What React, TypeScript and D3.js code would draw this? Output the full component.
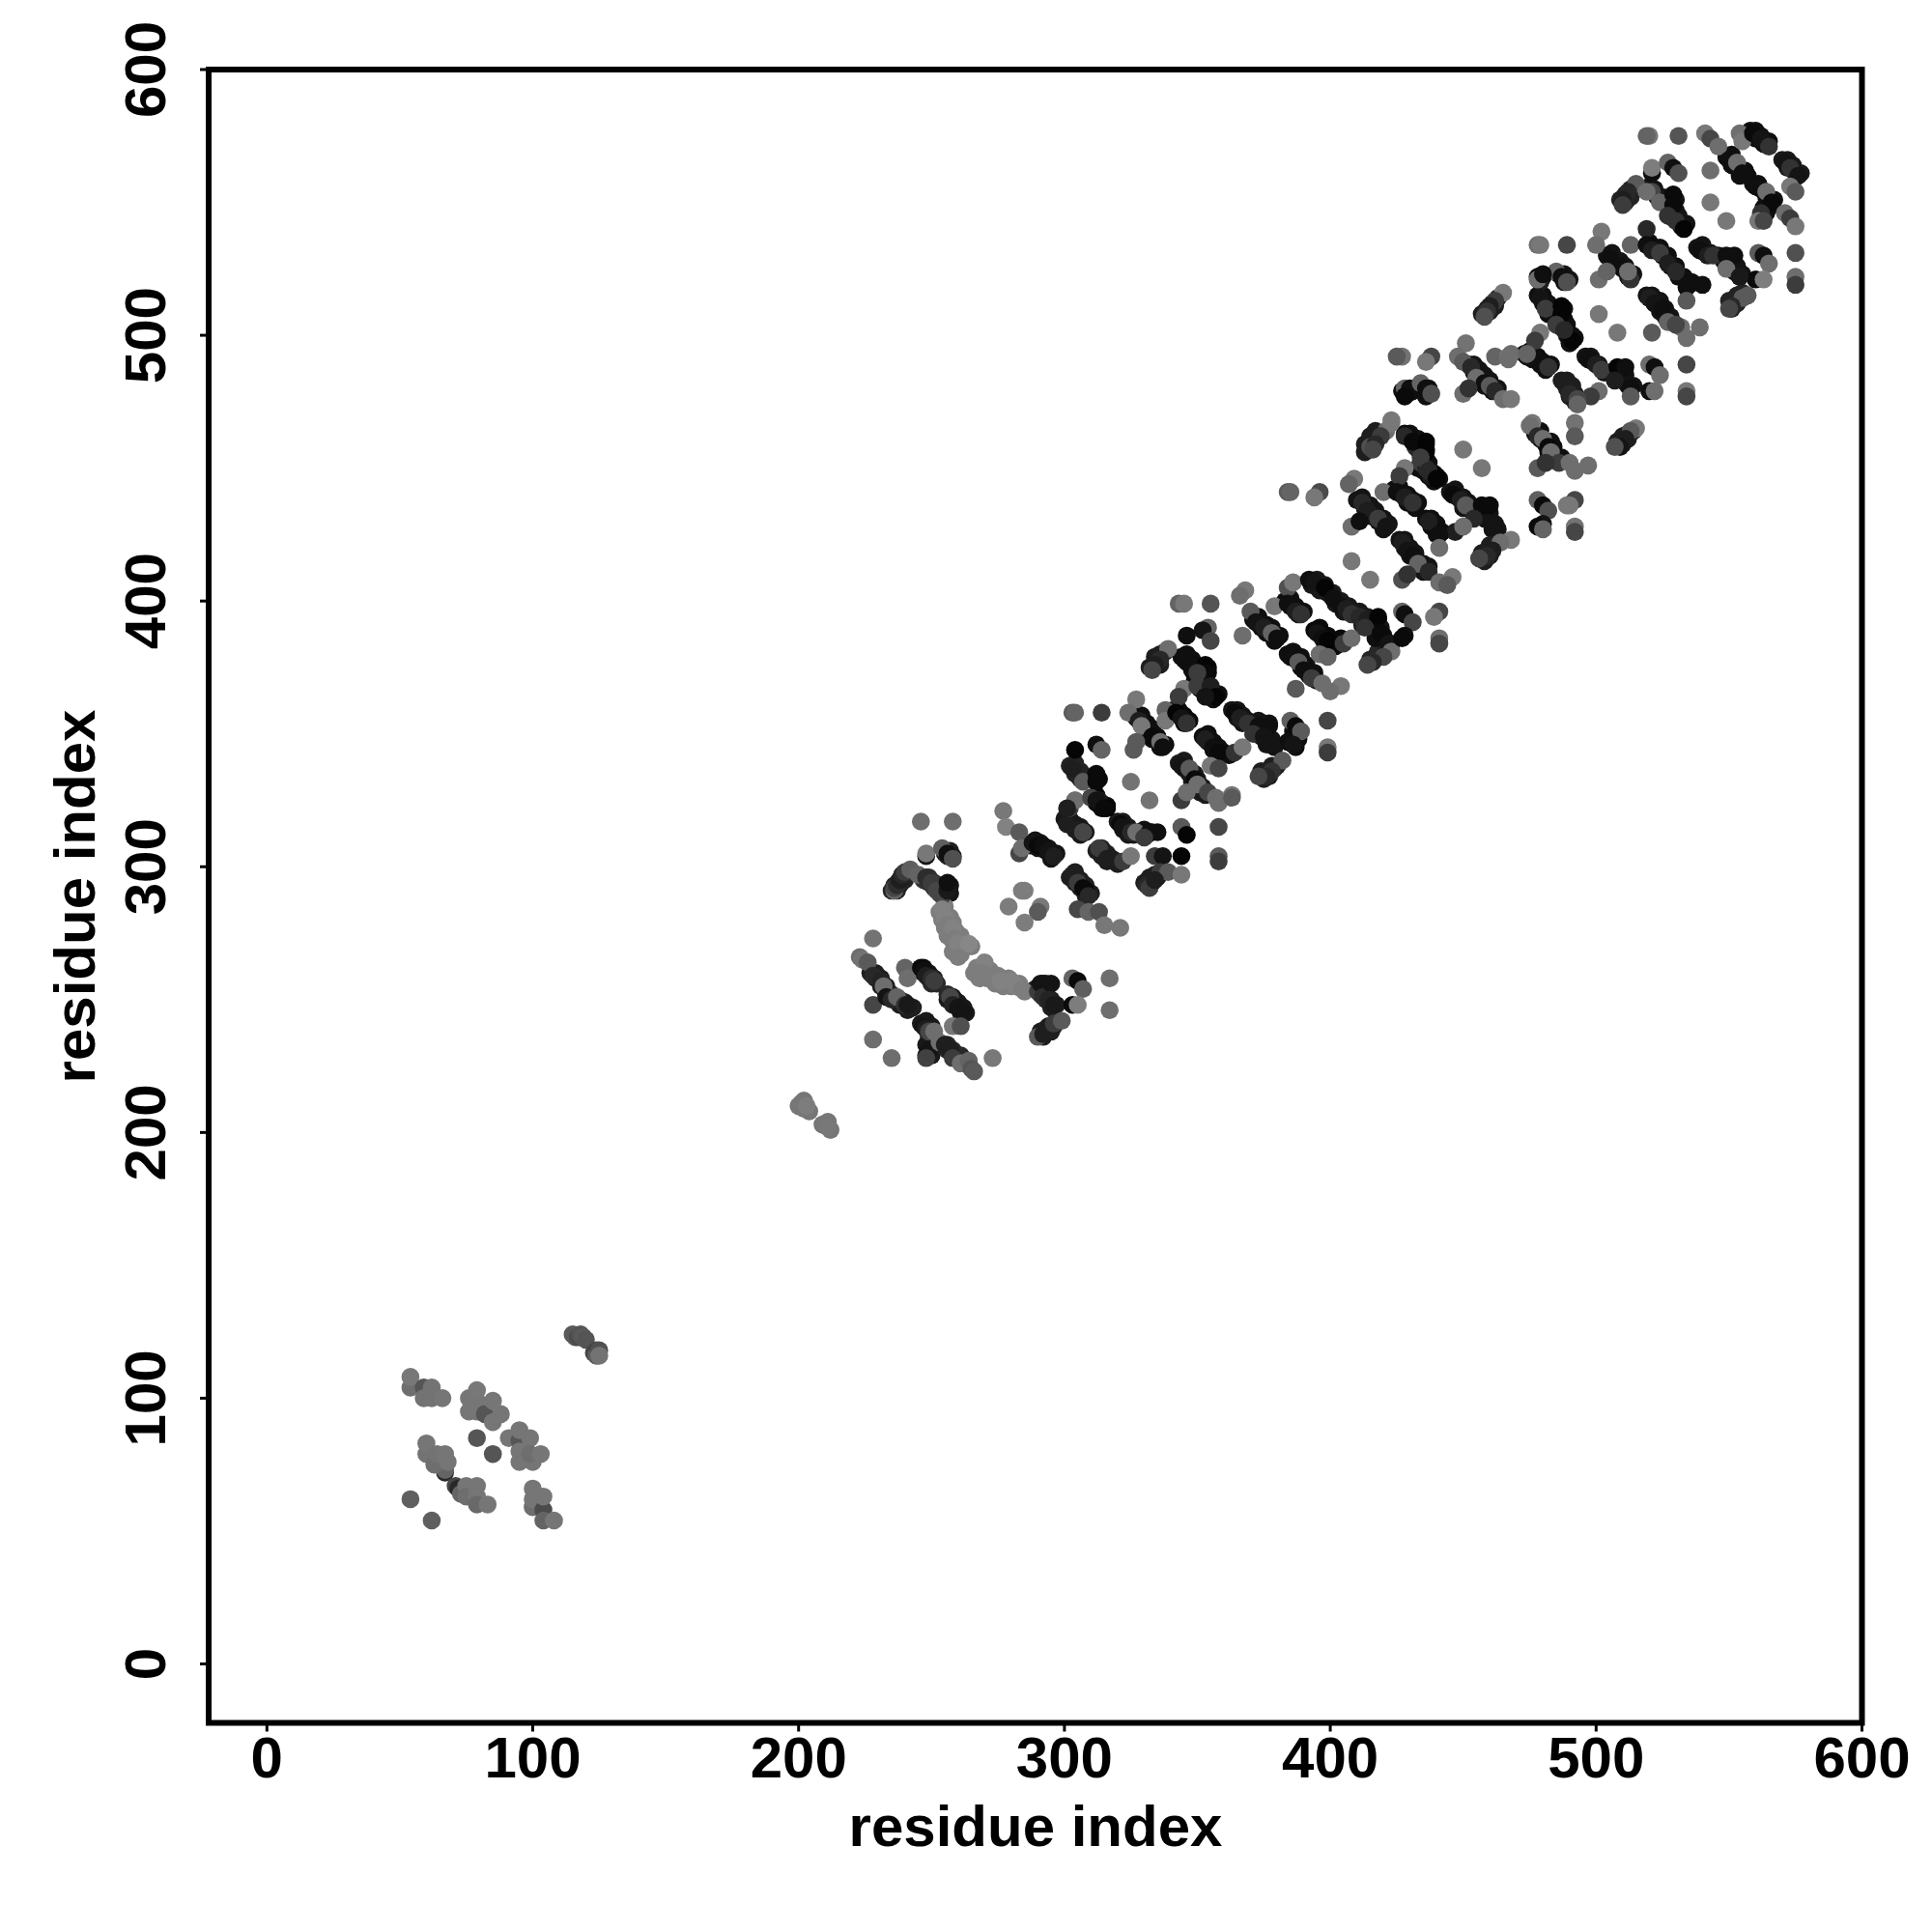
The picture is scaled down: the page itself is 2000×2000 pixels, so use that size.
import React from "react";
import * as d3 from "d3";

type P = [number, number, number];

const xTicks = [0, 100, 200, 300, 400, 500, 600];
const yTicks = [0, 100, 200, 300, 400, 500, 600];
const xTitle = "residue index";
const yTitle = "residue index";

// [residue i, residue j, grey level]
const lowCluster: P[] = [
  [54,104,110],[54,108,120],[59,104,85],[59,100,115],[62,104,115],[62,100,115],[66,100,118],
  [76,100,118],[76,95,118],[79,95,118],[79,99,118],[79,103,120],[82,94,85],[85,99,118],[88,94,118],[85,91,118],
  [79,85,85],[85,79,85],
  [60,79,115],[60,83,118],[67,72,40],[67,73,100],[63,75,110],[64,79,115],[68,76,118],[67,79,118],
  [91,85,118],[95,84,85],[95,88,118],[99,85,118],[95,80,118],[95,76,118],[100,76,118],[99,79,110],[103,79,118],
  [54,62,95],[62,54,95],
  [71,67,70],[72,66,40],[73,64,100],[75,67,118],[75,63,110],[79,67,118],[79,63,118],[79,60,105],[83,60,118],
  [100,59,110],[100,62,118],[100,66,118],[104,58,75],[104,63,118],[104,54,100],[108,54,118],
];
const bridgePoints: P[] = [
  [115,124,90],[116,123,90],[117,123,75],[118,124,85],[119,123,90],[120,122,85],[123,117,70],[124,118,70],[124,116,90],[125,118,80],[125,116,115],
  [200,210,118],[201,211,120],[202,212,118],[202,209,118],[204,208,118],[203,210,125],[209,203,118],[210,203,118],[212,201,118],[211,204,118],[211,202,120],
];
const lightArc: P[] = [
  [253,283,125],[255,285,125],[254,280,125],[257,281,125],[255,277,125],[258,279,125],[256,274,125],[259,276,125],[258,272,125],[261,274,125],[262,270,125],[265,270,125],[258,268,125],[261,267,125],
  [267,262,125],[270,262,125],[268,258,125],[271,258,125],[272,261,125],[275,259,125],[274,256,125],[277,255,125],[279,258,125],[280,255,125],[283,256,125],[285,253,125],
];
// darker strands lying beneath the individually legible points
const strandsLowerHalf: P[] = [
  [235,291,35],[237,291,35],[236,293,35],[238,293,35],[238,295,35],[240,295,35],[239,297,35],[241,297,35],
  [247,295,50],[249,296,50],[249,294,50],[251,294,50],[251,292,50],[253,292,50],[253,290,50],[255,290,50],
  [255,293,20],[257,293,20],[255,290,20],[257,290,20],[255,305,30],[257,306,30],[256,304,30],[258,304,30],
  [227,260,30],[229,260,30],[229,258,30],[231,258,30],[231,255,30],[233,255,30],[233,252,30],[235,252,30],[236,250,30],[238,250,30],[238,248,30],[240,249,30],[241,246,30],[243,247,30],
  [245,261,15],[247,262,15],[247,260,20],[249,260,20],[249,258,30],[251,258,30],[250,256,40],[252,256,40],
  [256,250,25],[258,251,25],[258,249,25],[260,249,25],[260,247,25],[262,247,25],[261,245,25],[263,245,25],
  [246,241,25],[248,242,25],[248,239,25],[250,240,25],[249,236,25],[251,236,25],[248,233,25],[250,233,25],[250,229,25],[248,229,25],
  [254,233,40],[256,233,40],[256,231,40],[258,231,40],[259,229,40],[261,229,40],
  [289,254,30],[291,254,30],[291,252,30],[293,252,30],[293,250,30],[295,250,30],[295,247,30],[297,248,30],[292,256,25],[293,256,25],
  [291,238,30],[293,239,30],[294,240,30],[296,240,30],[297,242,30],[292,236,30],[295,238,30],
  [287,308,20],[289,310,20],[290,307,20],[291,309,20],[293,306,20],[294,307,20],[295,303,20],[297,305,20],
  [302,296,30],[304,298,30],[304,294,30],[306,295,30],[306,292,30],[308,293,30],[308,289,30],[310,290,30],
  [300,318,25],[302,318,25],[302,316,25],[304,316,25],[304,314,25],[306,315,25],[306,312,25],[308,313,25],
  [310,326,10],[312,327,10],[312,324,10],[314,324,10],[314,322,10],[316,323,10],[320,317,25],[322,317,25],[322,314,25],[324,315,25],[324,312,25],[326,312,25],
  [312,306,30],[314,307,30],[314,304,30],[316,305,30],[316,302,30],[318,303,30],[320,301,30],
  [302,338,35],[304,339,35],[304,335,35],[306,336,35],[306,333,35],[308,334,35],[311,333,10],[313,333,10],
  [328,313,15],[330,314,15],[331,312,15],[333,313,15],[330,294,30],[332,296,30],[333,294,30],[334,297,30],[335,296,30],
  [332,375,30],[334,377,30],[334,379,30],[336,376,30],[336,380,30],[338,381,30],
  [344,379,15],[346,380,15],[346,377,15],[348,378,15],[348,374,15],[350,375,15],[351,372,15],[352,375,10],[354,375,10],[352,372,10],[354,373,10],
  [349,370,15],[351,370,15],[351,367,15],[353,368,15],[353,365,15],[355,366,15],[356,363,15],[358,365,15],
  [327,356,15],[329,357,15],[329,354,15],[331,354,15],[331,351,15],[333,352,15],[333,348,15],[335,349,15],[336,345,15],[338,346,15],
  [341,359,10],[343,359,10],[343,357,10],[345,357,10],[345,354,10],[347,355,10],
  [363,359,20],[365,359,20],[365,356,20],[367,357,20],[367,354,20],[369,355,20],[371,353,20],[373,355,20],[375,354,20],[377,354,20],
  [372,351,20],[374,352,20],[374,349,20],[376,349,20],[376,346,20],[378,348,20],[379,345,20],
  [386,351,15],[384,347,15],[388,348,15],[387,345,15],
  [352,349,15],[354,350,15],[354,347,15],[356,347,15],[356,344,15],[358,345,15],[360,343,15],[362,342,15],
  [374,336,30],[376,336,30],[378,338,30],[375,333,30],[377,334,30],[379,337,30],[380,338,30],
  [343,339,25],[345,340,25],[345,337,25],[347,335,25],[349,335,25],[348,332,25],[350,333,25],[352,330,25],[351,328,25],[353,327,25],
];
const strandsUpperHalf: P[] = [
  [371,393,15],[373,394,15],[374,390,15],[376,391,15],[376,388,15],[378,390,15],[379,385,15],[381,387,15],
  [383,400,15],[385,401,15],[385,398,15],[387,398,15],[388,395,15],[390,396,15],
  [393,406,25],[395,408,25],[396,404,25],[398,406,25],[399,403,25],[401,403,25],[402,399,25],[404,400,25],[405,396,25],[407,398,25],[409,395,25],[411,396,25],[412,392,25],[414,394,25],[416,392,25],[418,393,25],
  [394,389,10],[396,390,10],[397,387,10],[399,387,10],[398,384,10],[400,385,10],[402,383,10],[404,386,10],
  [384,380,15],[386,381,15],[387,378,15],[389,379,15],[389,375,15],[391,376,15],[392,372,15],[394,373,15],[395,370,15],
  [410,438,20],[412,439,20],[413,435,20],[415,436,20],[415,432,20],[417,434,20],[418,430,20],[420,431,20],[420,427,20],[422,429,20],
  [413,459,30],[415,460,30],[415,462,30],[417,464,30],[413,456,30],[416,458,30],
  [428,463,15],[430,463,15],[431,460,15],[433,461,15],[433,457,15],[435,456,15],[435,452,15],[437,452,15],[433,450,15],[435,449,15],[437,447,15],[439,448,15],[439,445,15],[441,446,15],
  [424,442,15],[426,443,15],[427,440,15],[429,440,15],[429,437,15],[431,438,15],[432,435,15],[433,437,15],
  [445,441,20],[447,442,20],[448,439,20],[450,439,20],[450,435,20],[452,437,20],[454,435,20],[456,434,20],[458,434,20],[460,433,20],[458,431,20],[460,430,20],[463,427,20],[461,427,20],
  [436,431,15],[438,431,15],[438,428,15],[440,429,15],[440,425,15],[442,426,15],
  [457,418,30],[459,419,30],[460,421,30],[458,415,30],[460,417,30],
  [426,423,20],[428,423,20],[428,420,20],[430,420,20],[430,417,20],[432,418,20],[433,413,20],[435,414,20],[435,411,20],[437,413,20],
  [415,378,40],[417,379,40],[418,381,40],[420,381,40],[421,383,30],[423,384,30],
  [412,391,30],[415,392,30],[417,390,20],[419,390,20],[417,386,15],[420,387,15],
  [452,489,20],[454,489,20],[454,486,20],[456,487,20],[456,484,20],[458,485,20],[458,481,20],[460,483,20],[461,479,20],[463,480,20],
  [457,508,30],[459,510,30],[460,509,30],[461,512,30],[462,511,30],[463,514,30],
  [477,463,15],[479,464,15],[479,461,15],[481,459,15],[483,460,15],[482,456,15],[484,458,15],[485,453,15],[487,454,15],
  [427,479,15],[429,478,15],[431,479,15],[435,479,15],[437,480,15],[436,477,15],
  [508,460,30],[510,462,30],[510,459,30],[512,461,30],[512,463,30],[514,464,30],
  [509,551,35],[511,553,35],[511,550,35],[513,555,35],[513,552,35],[515,555,35],
  [520,556,20],[522,555,20],[523,552,20],[525,552,20],[528,551,20],[530,551,20],[528,547,20],[530,547,20],[529,544,20],[531,545,20],[532,541,20],[534,542,20],
  [549,567,15],[551,568,15],[551,564,15],[553,563,15],[554,560,15],[556,562,15],[557,560,15],
  [558,577,15],[560,577,15],[560,574,15],[562,575,15],[563,572,15],[565,573,15],
  [570,566,25],[572,566,25],[572,563,25],[574,564,25],[575,561,25],[577,561,25],
  [559,557,15],[561,557,15],[562,555,15],[564,552,15],[565,551,15],[567,551,15],[563,548,15],[565,548,15],[562,545,15],[564,546,15],
  [538,533,20],[540,534,20],[541,531,20],[543,531,20],[546,530,20],[548,528,20],[551,528,20],[553,526,20],[552,524,20],[555,523,20],
  [550,513,35],[552,513,35],[553,515,35],[555,516,35],[551,510,35],[553,512,35],
  [504,530,20],[506,531,20],[507,528,20],[509,528,20],[510,525,20],[511,526,20],[512,522,20],[514,523,20],
  [520,535,15],[522,533,15],[524,533,15],[525,530,15],[527,530,15],[528,526,15],[530,526,15],[531,522,15],[533,522,15],[534,518,15],[536,520,15],
  [519,515,20],[521,515,20],[522,512,20],[524,513,20],[524,509,20],[526,510,20],[526,507,20],[528,507,20],
  [478,522,20],[480,522,20],[486,523,20],[488,523,20],[488,520,20],[490,521,20],
  [478,515,15],[480,515,15],[480,512,15],[482,512,15],[482,508,15],[486,510,15],[488,510,15],[486,506,15],[488,506,15],[487,503,15],[489,504,15],[489,500,15],[491,500,15],[490,497,15],[492,499,15],
  [473,493,15],[475,494,15],[476,491,15],[478,492,15],[479,489,15],[480,490,15],[481,487,15],[483,489,15],
  [496,492,20],[498,492,20],[499,490,20],[501,489,20],[503,486,20],[505,486,20],[507,486,20],[509,486,20],[511,485,20],[510,483,20],[512,481,20],[514,481,20],
  [487,483,30],[489,483,30],[489,480,30],[491,481,30],[490,477,30],[492,478,30],[492,475,30],
];
const motifA: P[] = [
  [246,317,110],[258,317,110],[236,291,100],[236,292,70],[237,293,45],[238,295,30],[239,297,40],[240,298,60],[242,299,95],
  [245,297,100],[248,304,20],[248,305,120],[248,296,45],[250,294,60],[252,291,70],[254,307,95],[256,305,15],[258,303,80],
  [254,289,70],[256,291,25],[256,294,15],
  [254,284,130],[255,281,130],[256,278,125],[257,275,125],[258,277,130],[259,273,125],[260,271,130],[264,271,135],[260,266,125],
  [266,260,125],[270,264,130],[269,260,125],[273,259,125],[276,257,130],[280,257,130],[282,255,130],[284,254,125],
  [290,253,60],[291,256,20],[292,251,45],[295,256,20],[294,250,35],[296,248,25],
  [303,258,100],[305,257,10],[307,254,95],[303,248,10],[305,248,125],
  [290,236,90],[292,237,30],[294,238,30],[296,241,60],[299,242,90],[317,258,110],[317,246,110],
  [228,273,115],[223,266,110],[224,265,115],[226,264,90],[228,248,70],[228,259,40],[231,257,35],[232,255,110],[233,251,20],[235,250,40],[237,251,100],[240,248,50],[241,248,25],
  [240,262,100],[241,258,110],[246,262,10],[247,261,15],[248,259,30],[250,258,45],[251,257,60],
  [256,252,40],[257,251,70],[258,248,35],[260,247,20],[262,245,20],[258,240,120],[261,240,80],
  [247,240,20],[248,239,30],[249,238,70],[251,238,110],[249,231,20],[248,228,65],[253,234,110],[255,233,30],[257,231,30],[258,228,60],[261,226,110],[264,227,100],[265,224,85],[266,223,90],
  [228,235,110],[235,228,110],[273,228,120],
];
const motifB: P[] = [
  [277,321,120],[278,315,130],[283,313,90],[283,305,70],[284,307,110],[288,309,20],[290,308,10],[292,308,15],[294,306,20],[296,304,30],
  [284,291,125],[285,291,125],[279,285,125],[291,285,120],[290,283,90],[285,279,125],
  [303,297,30],[305,294,60],[307,292,10],[308,291,10],[309,289,40],[305,284,70],[309,283,100],[313,283,80],[315,278,120],[321,277,120],
  [301,316,30],[304,314,30],[307,313,70],[304,325,120],[302,322,60],
  [303,358,90],[304,358,100],[314,358,60],[304,344,5],[312,346,15],[314,344,100],
  [303,337,30],[307,332,90],[312,335,10],[312,332,10],[304,325,110],[301,322,30],[307,313,70],[310,326,70],[313,325,30],[316,322,5],
  [312,325,20],[315,322,10],[321,316,10],[322,315,20],[325,313,40],[327,313,110],
  [313,307,60],[316,303,30],[320,302,30],[322,302,60],[325,304,120],
  [332,313,15],[335,313,15],[330,311,60],[334,304,60],[337,304,20],[344,315,90],[346,312,5],[344,304,5],[358,315,70],[358,304,90],[358,302,60],
  [325,332,115],[332,325,115],[336,298,60],[339,298,90],[344,297,120],[331,293,40],[332,292,60],[334,295,30],
  [343,399,100],[345,399,120],[355,399,85],
  [354,390,100],[352,389,20],[355,385,70],[346,387,15],[339,382,110],[336,378,40],[334,376,30],[333,374,70],[345,367,120],[343,364,60],[345,378,15],[348,376,15],[353,376,5],[353,373,10],[350,373,60],[350,368,60],[355,368,30],[357,364,5],[353,364,20],
  [327,363,120],[324,358,110],[328,355,30],[329,353,120],[333,349,10],[336,347,110],[337,345,15],[326,344,90],[327,347,90],
  [338,359,100],[338,355,120],[342,358,5],[344,356,20],[346,354,50],
  [364,358,10],[366,356,30],[369,354,50],[373,353,15],[377,353,15],[371,350,50],[375,349,20],[378,346,20],[385,355,95],[387,353,10],[389,351,90],[386,346,20],
  [353,348,30],[356,345,15],[358,343,10],[364,343,50],[367,345,120],[355,338,120],[358,337,70],
  [382,340,90],[378,336,50],[376,334,40],[373,334,70],
  [344,338,20],[347,337,90],[349,333,10],[350,331,110],[354,328,70],[357,326,110],[358,324,110],[363,327,120],[363,326,90],[344,325,60],[346,328,110],
  [399,355,70],[399,345,120],[399,343,60],
];
const motifC: P[] = [
  [368,404,120],[366,402,110],[379,398,120],[384,405,80],[386,407,120],[370,396,90],[367,387,110],[372,392,20],[375,390,30],[378,388,100],[380,386,15],
  [384,399,15],[387,396,30],[389,395,50],[392,408,15],[394,407,20],[398,405,5],[401,401,15],[404,398,15],[406,397,30],[408,395,50],[411,394,40],[414,393,30],[418,394,5],
  [395,388,20],[397,386,15],[399,385,5],[405,384,60],[408,386,110],[413,390,50],[419,388,10],[422,384,20],[423,381,110],[420,379,70],[416,377,40],[414,376,70],
  [385,379,15],[388,377,90],[390,374,15],[393,371,60],[397,369,110],[387,367,90],[404,368,120],[400,366,110],[396,380,110],[399,379,100],
  [427,396,100],[428,395,15],[431,392,70],[428,387,15],[427,386,10],[441,396,70],[439,394,120],[441,386,110],[441,384,70],
  [384,441,90],[385,441,100],[396,441,75],[394,439,120],
  [409,446,120],[407,444,100],[420,441,110],[423,468,120],[421,464,110],[418,462,30],[416,461,30],[415,458,80],
  [429,462,15],[432,458,40],[436,460,5],[436,457,10],[434,452,60],[436,450,40],[438,447,30],[440,447,5],
  [428,450,120],[426,447,60],[450,457,120],[457,450,120],
  [412,437,40],[414,434,30],[418,431,60],[421,428,20],[408,428,110],[411,430,15],
  [425,441,15],[428,439,30],[431,437,50],
  [446,440,10],[449,438,30],[451,436,90],[457,436,10],[460,436,10],[454,431,40],[462,429,20],[447,426,30],[450,428,110],
  [478,438,95],[480,436,10],[482,434,80],[480,429,20],[478,428,10],[480,427,100],[489,436,120],[492,438,70],[490,436,120],[492,428,115],[492,426,70],
  [437,430,30],[441,425,15],[441,420,110],
  [468,423,120],[464,422,110],[461,419,30],[459,417,40],[456,416,70],
  [427,422,30],[429,419,20],[431,417,15],[433,414,100],[437,411,40],[441,407,110],[446,409,120],[444,406,90],[427,408,80],[429,410,50],
  [408,415,120],[415,408,120],
];
const motifD: P[] = [
  [465,516,120],[462,513,60],[460,511,30],[459,509,50],[458,507,80],
  [427,492,115],[425,492,90],[438,492,70],[436,490,120],
  [451,497,115],[448,492,110],[450,490,90],[462,492,100],[467,492,120],[467,491,110],
  [453,488,40],[455,484,110],[458,482,15],[460,481,90],[462,479,40],[465,476,110],[468,476,120],[450,478,110],[452,480,50],
  [428,480,100],[430,480,15],[428,477,10],[434,482,100],[436,480,15],[438,478,80],
  [423,467,120],[419,462,60],[417,459,40],[416,457,70],[428,462,40],[431,460,10],[436,459,5],[436,456,5],[434,454,60],[437,449,40],[440,446,5],
  [476,467,120],[475,466,110],[478,462,40],[480,461,110],[482,458,10],[483,456,110],[486,452,60],[490,452,110],[492,449,110],[478,450,90],[481,452,50],
  [492,467,115],[492,462,90],[497,451,110],
  [515,465,120],[513,464,90],[511,461,30],[509,458,20],[507,458,80],
];
const motifE: P[] = [
  [478,534,110],[479,534,120],[489,534,70],[502,539,120],[500,534,110],[513,534,100],[519,540,40],[541,576,120],[531,575,85],[520,575,120],[519,575,100],
  [521,561,15],[521,563,125],[527,565,100],[529,563,15],[531,561,80],
  [515,557,90],[512,554,40],[510,551,30],[510,549,60],
  [521,554,70],[519,554,110],[524,550,100],[529,553,10],[529,549,10],[527,545,50],[530,543,50],[533,540,5],
  [543,574,70],[546,571,110],[554,576,110],[555,573,120],[559,576,10],[562,574,20],[565,571,50],
  [543,562,110],[550,566,15],[553,565,110],[555,561,15],
  [571,565,20],[573,563,50],[576,560,20],[573,556,120],[575,554,90],
  [543,550,120],[549,543,120],
  [560,556,15],[564,554,110],[566,550,10],[562,546,50],[561,543,120],[563,543,70],[571,546,110],[573,544,60],[575,541,120],
  [575,531,80],[575,522,110],[575,519,60],[561,531,90],[563,530,15],[565,527,110],[560,521,10],[563,521,125],
  [539,532,15],[542,530,30],[544,530,50],[549,530,15],[552,530,15],[549,525,110],[554,522,25],[557,515,90],[555,514,90],[551,511,40],[550,510,70],
  [505,529,15],[509,526,15],[513,521,50],[512,524,110],[501,521,110],[504,524,100],
  [519,534,15],[521,532,30],[524,531,60],[527,527,30],[530,524,40],[535,519,15],[540,519,15],[534,513,90],
  [520,514,30],[522,512,20],[525,510,15],[527,505,100],[532,503,110],[539,503,110],[521,501,90],[534,499,110],[530,504,70],
  [501,508,120],[508,501,120],
  [479,520,30],[478,521,110],[485,524,100],[487,522,15],[489,520,80],[480,523,15],
  [479,514,20],[481,510,60],[487,511,5],[487,508,5],[485,504,60],[491,498,5],[488,502,40],[479,501,120],[477,498,60],
  [474,492,20],[478,491,15],[482,488,50],[468,493,110],[474,493,100],
  [520,489,110],[522,488,15],[524,485,110],[520,479,15],[522,479,110],[534,489,70],[534,479,120],[534,477,70],
  [497,491,15],[500,489,30],[502,487,60],[508,488,5],[511,488,15],[507,483,30],[513,480,15],[513,477,90],[501,479,110],[498,477,60],
  [488,482,30],[490,478,40],[493,476,70],[493,474,100],
];

const allPoints: P[] = [...strandsLowerHalf, ...strandsUpperHalf, ...lowCluster, ...bridgePoints, ...lightArc, ...motifA, ...motifB, ...motifC, ...motifD, ...motifE];

const x = d3.scaleLinear().domain([0, 600]).range([276.3, 1927.5]);
const y = d3.scaleLinear().domain([0, 600]).range([1722.5, 72]);
const shade = d3.scaleLinear<string>().domain([0, 255]).range(["#000000", "#ffffff"]);

const frameLeft = 216;
const frameRight = 1927.5;
const frameTop = 72;
const frameBottom = 1783.5;
const font = "'Liberation Sans', Arial, sans-serif";
const fontSize = 60;

export default function App() {
  return (
    <svg width={2000} height={2000} style={{ position: "absolute", left: 0, top: 0, background: "#fff" }} fontFamily={font} fontWeight="bold">
      {allPoints.map((p, i) => (
        <circle key={i} cx={x(p[0])} cy={y(p[1])} r={9.3} fill={shade(p[2])} />
      ))}
      <rect x={frameLeft} y={frameTop} width={frameRight - frameLeft} height={frameBottom - frameTop} fill="none" stroke="#000" strokeWidth={6} />
      {xTicks.map((t) => (
        <g key={t}>
          <line x1={x(t)} x2={x(t)} y1={frameBottom} y2={frameBottom + 9} stroke="#000" strokeWidth={3} />
          <text x={x(t)} y={1840} textAnchor="middle" fontSize={fontSize}>{t}</text>
        </g>
      ))}
      {yTicks.map((t) => (
        <g key={t}>
          <line x1={frameLeft - 9} x2={frameLeft} y1={y(t)} y2={y(t)} stroke="#000" strokeWidth={3} />
          <text transform={`translate(171,${y(t)}) rotate(-90)`} textAnchor="middle" fontSize={fontSize}>{t}</text>
        </g>
      ))}
      <text x={1072} y={1911} textAnchor="middle" fontSize={fontSize}>{xTitle}</text>
      <text transform="translate(98,928) rotate(-90)" textAnchor="middle" fontSize={fontSize}>{yTitle}</text>
    </svg>
  );
}
